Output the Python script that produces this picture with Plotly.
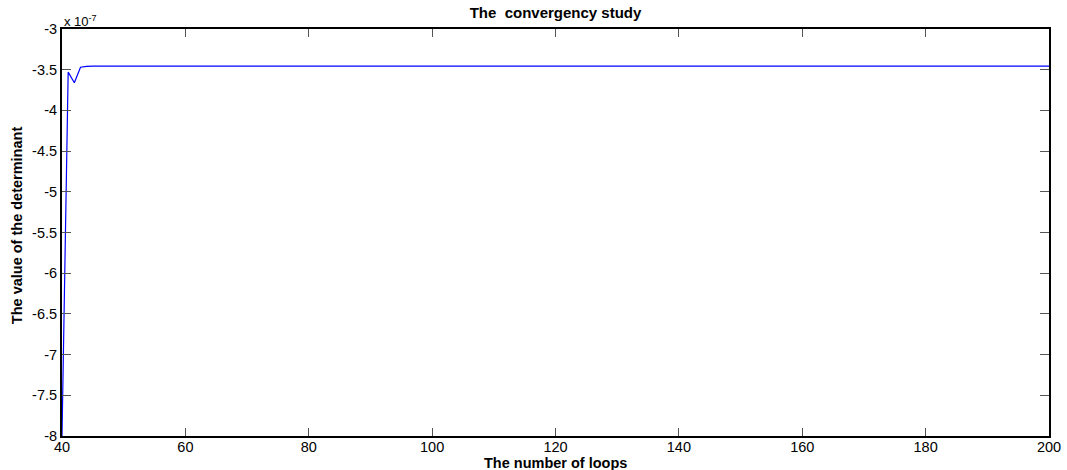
import plotly.graph_objects as go

# number of loops and determinant value (in units of 1e-7)
loops = [40, 41, 42, 43, 44, 45, 60, 80, 100, 120, 140, 160, 180, 200]
det_values = [-8.0, -3.53, -3.66, -3.47, -3.46, -3.455, -3.455, -3.455, -3.455,
              -3.455, -3.455, -3.455, -3.455, -3.455]

x_ticks = [40, 60, 80, 100, 120, 140, 160, 180, 200]
y_ticks = [-3, -3.5, -4, -4.5, -5, -5.5, -6, -6.5, -7, -7.5, -8]
y_tick_labels = ["-3", "-3.5", "-4", "-4.5", "-5", "-5.5", "-6", "-6.5", "-7", "-7.5", "-8"]

fig = go.Figure()
fig.add_trace(go.Scatter(x=loops, y=det_values, mode="lines",
                         line=dict(color="#0000ff", width=1.2), showlegend=False,
                         cliponaxis=True))

font_family = "Liberation Sans, Arial, sans-serif"

fig.update_layout(
    width=1067, height=470,
    margin=dict(l=62, r=18, t=29, b=34),
    paper_bgcolor="white", plot_bgcolor="white",
    font=dict(family=font_family, color="black", size=14),
    title=dict(text="<b>The  convergency study</b>", x=0.5, xref="paper", xanchor="center",
               y=1 - 13 / 470, yref="container", yanchor="middle",
               font=dict(size=15, family=font_family)),
    xaxis=dict(range=[40, 200], tickvals=x_ticks, ticks="inside", ticklen=8,
               tickcolor="#555555", tickwidth=1, showline=True, linecolor="black",
               linewidth=2, mirror="allticks", showgrid=False, zeroline=False,
               tickfont=dict(size=14.5), automargin=False, ticklabelstandoff=-3),
    yaxis=dict(range=[-8, -3], tickvals=y_ticks, ticktext=y_tick_labels, ticks="inside",
               ticklen=9, tickcolor="#555555", tickwidth=1, showline=True,
               linecolor="black", linewidth=2, mirror="allticks", showgrid=False,
               zeroline=False, tickfont=dict(size=14.5), automargin=False),
    annotations=[
        dict(text="x 10<sup>-7</sup>", xref="paper", yref="paper",
             x=0.0, y=1.0, xanchor="left", yanchor="bottom",
             showarrow=False, font=dict(size=13), yshift=-2),
        dict(text="<b>The number of loops</b>", xref="paper", yref="paper",
             x=0.5, y=-27 / 407, xanchor="center", yanchor="middle",
             showarrow=False, font=dict(size=14.5)),
        dict(text="<b>The value of the determinant</b>", xref="paper", yref="paper",
             x=-45 / 987, y=0.518, xanchor="center", yanchor="middle", textangle=-90,
             showarrow=False, font=dict(size=14.5)),
    ],
)

fig.write_html("out.html")
